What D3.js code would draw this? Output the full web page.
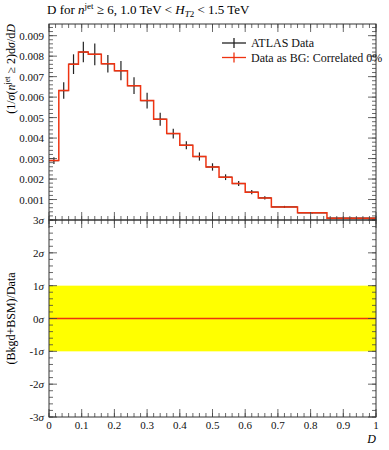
<!DOCTYPE html>
<html>
<head>
<meta charset="utf-8">
<script src="https://cdn.jsdelivr.net/npm/d3@7"></script>
<style>
  body { margin: 0; background: #fff; }
  svg { font-family: "Liberation Serif", "DejaVu Serif", serif; }
</style>
</head>
<body>
<div id="chart"></div>
<script>
// data
var binEdges = [0, 0.03, 0.06, 0.09, 0.12, 0.16, 0.2, 0.24, 0.28, 0.32, 0.36, 0.40,
                0.44, 0.48, 0.52, 0.56, 0.60, 0.64, 0.68, 0.76, 0.85, 1.0];
var dataValues = [0.0029, 0.00632, 0.00761, 0.0082, 0.00809, 0.00763, 0.00729, 0.00656,
                  0.00583, 0.00492, 0.00422, 0.00365, 0.0031, 0.00259, 0.00209, 0.00178,
                  0.00136, 0.00108, 0.00064, 0.00035, 0.00009];
var dataErrors = [0.00016, 0.0004, 0.00048, 0.0005, 0.00053, 0.00043, 0.00047, 0.00041,
                  0.00038, 0.00032, 0.00024, 0.0002, 0.0002, 0.00018, 0.00014, 0.00012,
                  0.0001, 0.00008, 0.00005, 0.00003, 0.00002];
var bgValues = dataValues.slice();
var mainYTicks = [0.001, 0.002, 0.003, 0.004, 0.005, 0.006, 0.007, 0.008, 0.009];
var ratioTicks = [-3, -2, -1, 0, 1, 2, 3];
var xTicks = [0, 0.1, 0.2, 0.3, 0.4, 0.5, 0.6, 0.7, 0.8, 0.9, 1];
var legendLabels = ["ATLAS Data", "Data as BG: Correlated 0%"];

var width = 389, height = 450;
// panel edges (note: "top" is reserved on window, so prefix these)
var pLeft = 49, pRight = 376, pTop = 24, pMid = 220, pBottom = 417;
var red = "#ee3311", ink = "#222";

var x = d3.scaleLinear().domain([0, 1]).range([pLeft, pRight]);
var y = d3.scaleLinear().domain([0, 0.00957]).range([pMid, pTop]);
var yr = d3.scaleLinear().domain([-3, 3]).range([pBottom, pMid]);

var svg = d3.select("#chart").append("svg")
    .attr("width", width).attr("height", height);

// ---- ratio panel band + line
svg.append("rect")
    .attr("x", x(0)).attr("y", yr(1))
    .attr("width", x(1) - x(0)).attr("height", yr(-1) - yr(1))
    .attr("fill", "#ffff00");
svg.append("line")
    .attr("x1", x(0)).attr("x2", x(1))
    .attr("y1", yr(0)).attr("y2", yr(0))
    .attr("stroke", red).attr("stroke-width", 1.5);

// ---- data points (error bars)
var bins = dataValues.map((v, i) => ({lo: binEdges[i], hi: binEdges[i + 1], v: v, e: dataErrors[i]}));
var pts = svg.append("g").attr("stroke", ink).attr("stroke-width", 1.2);
pts.selectAll(".eh").data(bins).join("line")
    .attr("x1", d => x(d.lo)).attr("x2", d => x(d.hi))
    .attr("y1", d => y(d.v)).attr("y2", d => y(d.v));
pts.selectAll(".ev").data(bins).join("line")
    .attr("x1", d => x((d.lo + d.hi) / 2)).attr("x2", d => x((d.lo + d.hi) / 2))
    .attr("y1", d => y(d.v - d.e)).attr("y2", d => y(d.v + d.e));

// ---- BG histogram as a step line
var steps = [];
bgValues.forEach((v, i) => {
  steps.push([binEdges[i], v]);
  steps.push([binEdges[i + 1], v]);
});
svg.append("path")
    .datum(steps)
    .attr("fill", "none").attr("stroke", red).attr("stroke-width", 1.5)
    .attr("d", d3.line().x(d => x(d[0])).y(d => y(d[1])));

// ---- ticks
function ticks(g, vals, fn) { g.selectAll(null).data(vals).join("line").each(fn); }
var tickG = svg.append("g").attr("stroke", "#444").attr("stroke-width", 0.8);
var xMinor = d3.range(0, 1.0001, 0.02);
var xMajor = d3.range(0, 1.0001, 0.1);
function xTicksAt(yy, dir) {
  ticks(tickG, xMinor, function(d) {
    d3.select(this).attr("x1", x(d)).attr("x2", x(d)).attr("y1", yy).attr("y2", yy + dir * 4);
  });
  ticks(tickG, xMajor, function(d) {
    d3.select(this).attr("x1", x(d)).attr("x2", x(d)).attr("y1", yy).attr("y2", yy + dir * 8);
  });
}
xTicksAt(pTop, 1);
xTicksAt(pMid, -1);
xTicksAt(pMid, 1);
xTicksAt(pBottom, -1);

var yMinor = d3.range(0, 0.0095, 0.0002);
function yTicksAt(scale, minor, major, xx, dir) {
  ticks(tickG, minor, function(d) {
    d3.select(this).attr("y1", scale(d)).attr("y2", scale(d)).attr("x1", xx).attr("x2", xx + dir * 4);
  });
  ticks(tickG, major, function(d) {
    d3.select(this).attr("y1", scale(d)).attr("y2", scale(d)).attr("x1", xx).attr("x2", xx + dir * 8);
  });
}
yTicksAt(y, yMinor, mainYTicks, pLeft, 1);
yTicksAt(y, yMinor, mainYTicks, pRight, -1);
var rMinor = d3.range(-3, 3.0001, 0.2);
yTicksAt(yr, rMinor, ratioTicks, pLeft, 1);
yTicksAt(yr, rMinor, ratioTicks, pRight, -1);

// ---- frames
svg.append("rect").attr("x", pLeft).attr("y", pTop).attr("width", pRight - pLeft).attr("height", pMid - pTop)
    .attr("fill", "none").attr("stroke", "#333").attr("stroke-width", 1);
svg.append("rect").attr("x", pLeft).attr("y", pMid).attr("width", pRight - pLeft).attr("height", pBottom - pMid)
    .attr("fill", "none").attr("stroke", "#333").attr("stroke-width", 1);

// ---- tick labels
var lab = svg.append("g").attr("font-size", 11).attr("fill", "#111");
lab.selectAll(null).data(mainYTicks).join("text")
    .attr("x", pLeft - 5).attr("y", d => y(d) + 4).attr("text-anchor", "end")
    .text(d => d3.format(".3f")(d));
lab.selectAll(null).data(ratioTicks).join("text")
    .attr("x", pLeft - 5).attr("y", d => yr(d) + 4).attr("text-anchor", "end")
    .each(function(d) {
      var t = d3.select(this);
      t.append("tspan").text(d < 0 ? "-" + (-d) : d);
      t.append("tspan").attr("font-style", "italic").text("σ");
    });
lab.selectAll(null).data(xTicks).join("text")
    .attr("x", d => x(d)).attr("y", 429).attr("text-anchor", "middle")
    .text(d => d);

// ---- axis titles
svg.append("text").attr("x", pRight).attr("y", 443).attr("text-anchor", "end")
    .attr("font-size", 12).attr("font-style", "italic").text("D");

var yl = svg.append("text").attr("transform", "translate(15," + pTop + ") rotate(-90)")
    .attr("text-anchor", "end").attr("font-size", 12);
yl.append("tspan").text("(1/");
yl.append("tspan").attr("font-style", "italic").text("σ");
yl.append("tspan").text("(");
yl.append("tspan").attr("font-style", "italic").text("n");
yl.append("tspan").attr("font-size", 8).attr("dy", -5).text("jet");
yl.append("tspan").attr("dy", 5).text(" ≥ 2)d");
yl.append("tspan").attr("font-style", "italic").text("σ");
yl.append("tspan").text("/d");
yl.append("tspan").attr("font-style", "italic").text("D");

svg.append("text").attr("transform", "translate(15," + yr(0) + ") rotate(-90)")
    .attr("text-anchor", "middle").attr("font-size", 12).text("(Bkgd+BSM)/Data");

// ---- title
var tt = svg.append("text").attr("x", 47).attr("y", 14).attr("font-size", 13);
tt.append("tspan").text("D for ");
tt.append("tspan").attr("font-style", "italic").text("n");
tt.append("tspan").attr("font-size", 9).attr("dy", -5).text("jet");
tt.append("tspan").attr("dy", 5).text(" ≥ 6, 1.0 TeV < ");
tt.append("tspan").attr("font-style", "italic").text("H");
tt.append("tspan").attr("font-size", 9).attr("dy", 3).attr("font-style", "italic").text("T");
tt.append("tspan").attr("font-size", 9).text("2");
tt.append("tspan").attr("dy", -3).text(" < 1.5 TeV");

// ---- legend
var colors = [ink, red];
var leg = svg.append("g");
legendLabels.forEach((l, i) => {
  var yy = 43 + i * 14.5;
  leg.append("line").attr("x1", 222).attr("x2", 246).attr("y1", yy).attr("y2", yy)
      .attr("stroke", colors[i]).attr("stroke-width", 1.3);
  leg.append("line").attr("x1", 234).attr("x2", 234).attr("y1", yy - 5).attr("y2", yy + 5)
      .attr("stroke", colors[i]).attr("stroke-width", 1.3);
  leg.append("text").attr("x", 251).attr("y", yy + 4).attr("font-size", 12)
      .attr("fill", "#111").text(l);
});
</script>
</body>
</html>
